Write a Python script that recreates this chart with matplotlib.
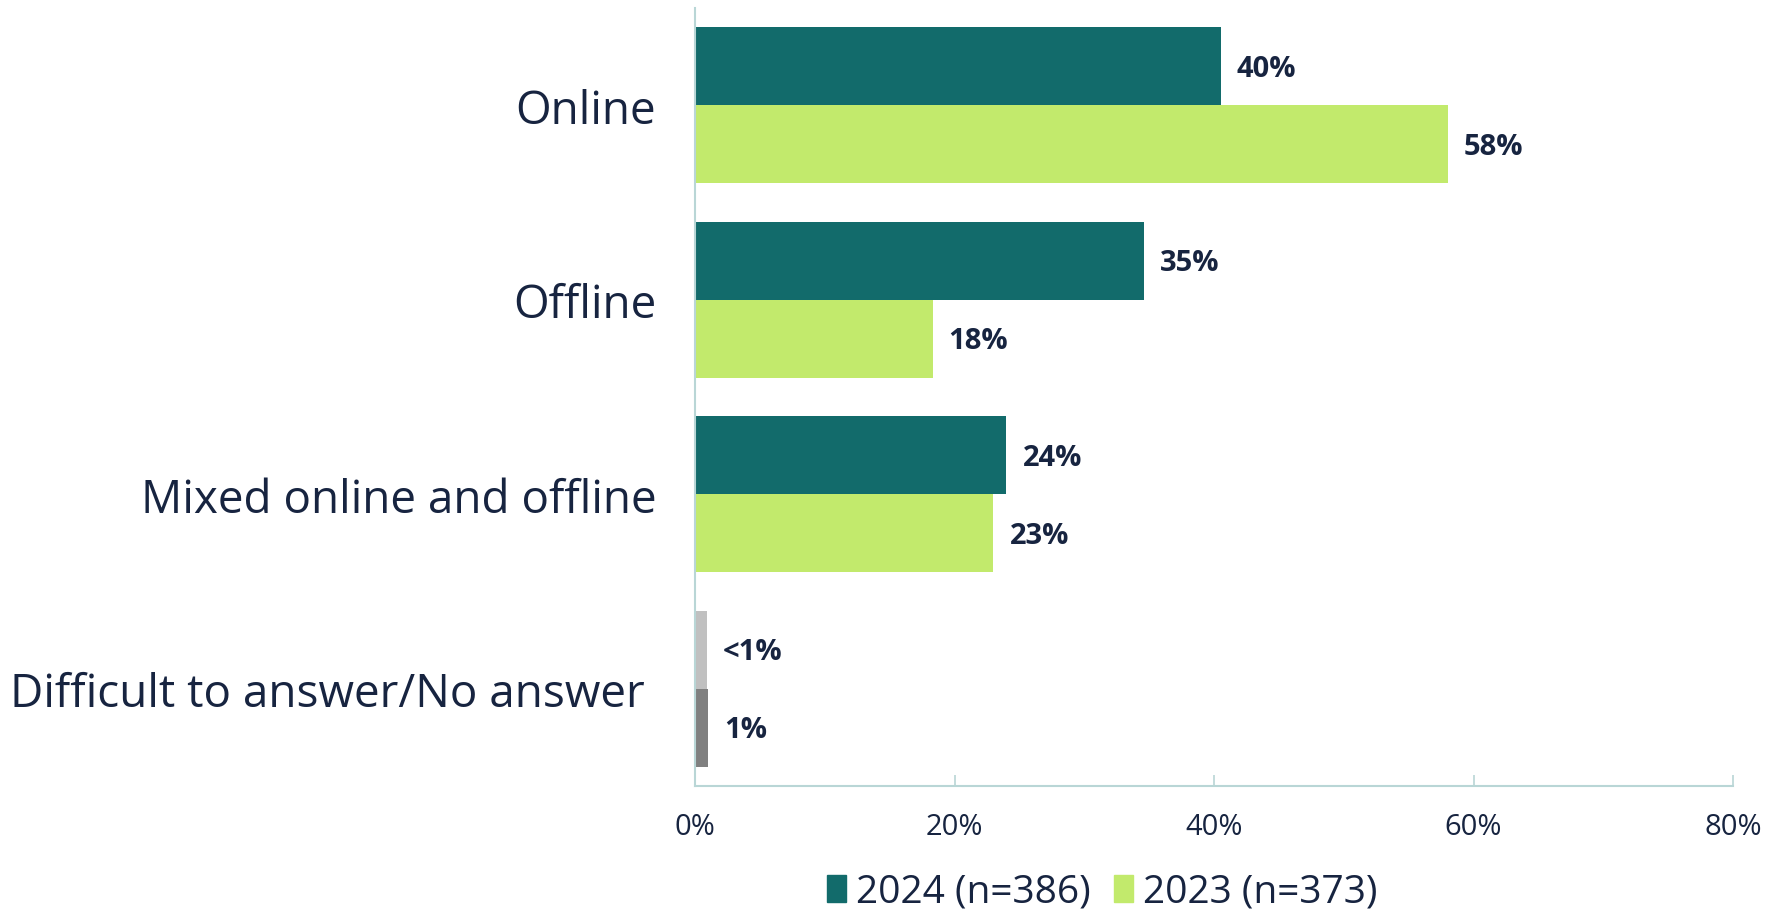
import matplotlib
matplotlib.use("Agg")
import matplotlib.pyplot as plt
from matplotlib.patches import Patch

categories = ["Online", "Offline", "Mixed online and offline", "Difficult to answer/No answer "]
v2024 = [40.5, 34.6, 24.0, 0.9]
v2023 = [58.0, 18.3, 23.0, 1.0]
labels2024 = ["40%", "35%", "24%", "<1%"]
labels2023 = ["58%", "18%", "23%", "1%"]
xticks = [0, 20, 40, 60, 80]
xticklabels = ["0%", "20%", "40%", "60%", "80%"]
legend_labels = ["2024 (n=386)", "2023 (n=373)"]

TEAL = "#126b6b"
LIME = "#c2ea6c"
GRAY_L = "#c0c0c0"
GRAY_D = "#808080"
TEXT = "#172440"
AXC = "#b9d6d6"

colors2024 = [TEAL, TEAL, TEAL, GRAY_L]
colors2023 = [LIME, LIME, LIME, GRAY_D]

plt.rcParams['font.family'] = ['Open Sans', 'DejaVu Sans']

fig = plt.figure(figsize=(17.7, 9.12), dpi=100)
ax = fig.add_axes([0.3927, 0.1371, 0.9791 - 0.3927, 0.9901 - 0.1371])

idx = list(range(len(categories)))
h = 0.4
y24 = [i - h / 2 for i in idx]
y23 = [i + h / 2 for i in idx]
ax.barh(y24, v2024, height=h, color=colors2024)
ax.barh(y23, v2023, height=h, color=colors2023)

for y, v, t in zip(y24, v2024, labels2024):
    ax.annotate(t, (v, y), xytext=(16, -2), textcoords="offset pixels",
                va="center", ha="left", fontsize=21, fontweight="bold", color=TEXT)
for y, v, t in zip(y23, v2023, labels2023):
    ax.annotate(t, (v, y), xytext=(16, -2), textcoords="offset pixels",
                va="center", ha="left", fontsize=21, fontweight="bold", color=TEXT)

ax.set_ylim(3.5, -0.5)
ax.set_xlim(0, 80)
ax.set_yticks(idx)
ax.set_yticklabels(categories, fontsize=33, color=TEXT)
ax.tick_params(axis="y", length=0, pad=28)
ax.set_xticks(xticks)
ax.set_xticklabels(xticklabels, fontsize=21, color=TEXT)
ax.tick_params(axis="x", direction="in", length=8, color=AXC, width=1.2, pad=19)

for s in ["top", "right"]:
    ax.spines[s].set_visible(False)
for s in ["left", "bottom"]:
    ax.spines[s].set_color(AXC)
    ax.spines[s].set_linewidth(1.5)

handles = [Patch(color=TEAL), Patch(color=LIME)]
fig.legend(handles, legend_labels, loc="center", bbox_to_anchor=(0.6226, 0.021),
           ncol=2, frameon=False, handlelength=0.5, handleheight=0.7,
           handletextpad=0.25, columnspacing=0.6, labelcolor=TEXT,
           prop={'size': 28})

fig.savefig("out.png", dpi=100)
